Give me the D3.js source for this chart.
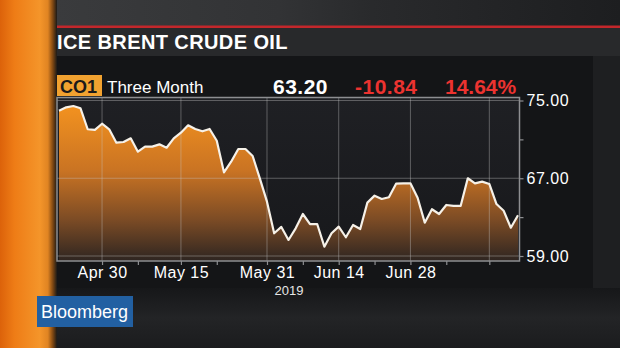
<!DOCTYPE html>
<html>
<head>
<meta charset="utf-8">
<script src="https://cdn.jsdelivr.net/npm/d3@7"></script>
<style>
  html, body { margin: 0; padding: 0; background: #141517; overflow: hidden; }
  svg { display: block; font-family: 'Liberation Sans', Arial, sans-serif; }
</style>
</head>
<body>
<script>
// trading days shown on the chart (ICE Brent, 3 months)
var dates = [
  '2019-04-22', '2019-04-23', '2019-04-24', '2019-04-25', '2019-04-26', '2019-04-29', '2019-04-30',
  '2019-05-01', '2019-05-02', '2019-05-03', '2019-05-06', '2019-05-07', '2019-05-08', '2019-05-09',
  '2019-05-10', '2019-05-13', '2019-05-14', '2019-05-15', '2019-05-16', '2019-05-17', '2019-05-20',
  '2019-05-21', '2019-05-22', '2019-05-23', '2019-05-24', '2019-05-27', '2019-05-28', '2019-05-29',
  '2019-05-30', '2019-05-31', '2019-06-03', '2019-06-04', '2019-06-05', '2019-06-06', '2019-06-07',
  '2019-06-10', '2019-06-11', '2019-06-12', '2019-06-13', '2019-06-14', '2019-06-17', '2019-06-18',
  '2019-06-19', '2019-06-20', '2019-06-21', '2019-06-24', '2019-06-25', '2019-06-26', '2019-06-27',
  '2019-06-28', '2019-07-01', '2019-07-02', '2019-07-03', '2019-07-04', '2019-07-05', '2019-07-08',
  '2019-07-09', '2019-07-10', '2019-07-11', '2019-07-12', '2019-07-15', '2019-07-16', '2019-07-17',
  '2019-07-18', '2019-07-19'
]

var prices = [
  73.95, 74.30, 74.43, 74.20, 72.04, 71.97, 72.61,
  72.04, 70.66, 70.73, 71.11, 69.73, 70.25, 70.25,
  70.49, 70.14, 71.11, 71.69, 72.45, 72.07, 71.83,
  72.07, 70.86, 67.61, 68.70, 70.01, 70.01, 69.29,
  66.99, 64.59, 61.34, 61.99, 60.65, 61.85, 63.32,
  62.29, 62.29, 59.96, 61.34, 62.02, 60.93, 62.19,
  61.78, 64.49, 65.21, 64.87, 65.04, 66.44, 66.48,
  66.48, 65.00, 62.43, 63.81, 63.32, 64.25, 64.15,
  64.15, 67.00, 66.48, 66.65, 66.41, 64.35, 63.66,
  61.91, 63.20
]

// x grid + labels (semi-monthly), minor weekly ticks
var gridDates = ['2019-04-30', '2019-05-15', '2019-05-31', '2019-06-14', '2019-06-28', '2019-07-15']
var gridLabels = ['Apr 30', 'May 15', 'May 31', 'Jun 14', 'Jun 28', '']
var minorDates = ['2019-05-07', '2019-05-22', '2019-06-07', '2019-06-21', '2019-07-05']
var yTicks = [59, 63, 67, 71, 75]
var yLabelled = [59, 67, 75]

var header = { ticker: 'CO1', period: 'Three Month', last: '63.20', change: '-10.84', pct: '14.64%' }

var W = 620
var H = 348
var plot = { left: 57, right: 519.5, top: 97.5, bottom: 261 }

var svg = d3.select('body').append('svg')
  .attr('width', W)
  .attr('height', H)

var defs = svg.append('defs')

function gradient (id, x2, y2, stops, user) {
  var g = defs.append('linearGradient')
    .attr('id', id)
    .attr('x1', 0).attr('y1', 0)
    .attr('x2', x2).attr('y2', y2)
  if (user) {
    g.attr('gradientUnits', 'userSpaceOnUse')
      .attr('x1', user[0]).attr('y1', user[1])
      .attr('x2', user[2]).attr('y2', user[3])
  }
  stops.forEach(function (s) {
    g.append('stop').attr('offset', s[0]).attr('stop-color', s[1])
  })
}

gradient('strip', 1, 0, [[0, '#dc620a'], [0.25, '#ee7c16'], [0.7, '#f4952a'], [0.84, '#e08422'], [0.93, '#7a4512'], [1, '#1c1a18']])
gradient('topband', 1, 0, [[0, '#3c3d3f'], [0.45, '#323335'], [0.6, '#292a2c'], [1, '#1d1e20']])
gradient('bottom', 0, 1, [[0, '#161719'], [0.5, '#232426'], [1, '#1b1c1e']])
gradient('plotbg', 0, 1, [[0, '#1f2024'], [1, '#17181b']])
gradient('fill', 0, 1, [[0, '#f8961f'], [0.45, '#c97323'], [0.75, '#7b4b25'], [1, '#2e2521']], [0, plot.top, 0, plot.bottom])

// background pieces
svg.append('rect').attr('x', 0).attr('y', 0).attr('width', W).attr('height', 27).attr('fill', 'url(#topband)')
svg.append('rect').attr('x', 0).attr('y', 28).attr('width', W).attr('height', 28).attr('fill', '#28292b')
svg.append('rect').attr('x', 0).attr('y', 56).attr('width', 593).attr('height', 232).attr('fill', '#141517')
svg.append('rect').attr('x', 593).attr('y', 56).attr('width', 27).attr('height', 232).attr('fill', '#1e1f21')
svg.append('rect').attr('x', 0).attr('y', 288).attr('width', W).attr('height', 60).attr('fill', 'url(#bottom)')
svg.append('rect').attr('x', 50).attr('y', 25.5).attr('width', W - 50).attr('height', 2.5).attr('fill', '#c3272b')
svg.append('rect').attr('x', 0).attr('y', 0).attr('width', 57).attr('height', H).attr('fill', 'url(#strip)')

// title
svg.append('text')
  .attr('x', 57)
  .attr('y', 49)
  .attr('fill', '#ffffff')
  .attr('font-size', '20px')
  .attr('font-weight', 'bold')
  .attr('letter-spacing', '0.4px')
  .text('ICE BRENT CRUDE OIL')

// header row
svg.append('rect').attr('x', 57).attr('y', 75).attr('width', 45).attr('height', 21).attr('fill', '#f2a230')
svg.append('text').attr('x', 60).attr('y', 93).attr('fill', '#1a1a1a')
  .attr('font-size', '18px').attr('font-weight', 'bold').text(header.ticker)
svg.append('text').attr('x', 107).attr('y', 93).attr('fill', '#ffffff')
  .attr('font-size', '17px').text(header.period)
svg.append('text').attr('x', 273).attr('y', 94).attr('fill', '#ffffff')
  .attr('font-size', '21px').attr('font-weight', 'bold').attr('letter-spacing', '0.5px').text(header.last)
svg.append('text').attr('x', 355).attr('y', 94).attr('fill', '#ec3330')
  .attr('font-size', '21px').attr('font-weight', 'bold').attr('letter-spacing', '0.5px').text(header.change)
svg.append('text').attr('x', 445).attr('y', 94).attr('fill', '#ec3330')
  .attr('font-size', '21px').attr('font-weight', 'bold').text(header.pct)

// scales
var x = d3.scalePoint().domain(dates).range([59, 518])
var y = d3.scaleLinear().domain([59, 75]).range([256, 100.5])

var data = dates.map(function (d, i) { return { date: d, value: prices[i] } })

svg.append('rect')
  .attr('x', plot.left).attr('y', plot.top)
  .attr('width', plot.right - plot.left).attr('height', plot.bottom - plot.top)
  .attr('fill', 'url(#plotbg)')

var area = d3.area()
  .x(function (d) { return x(d.date) })
  .y0(plot.bottom)
  .y1(function (d) { return y(d.value) })

var line = d3.line()
  .x(function (d) { return x(d.date) })
  .y(function (d) { return y(d.value) })

svg.append('path').datum(data).attr('d', area).attr('fill', 'url(#fill)')

// grid
svg.selectAll('line.vgrid')
  .data(gridDates)
  .enter().append('line')
  .attr('class', 'vgrid')
  .attr('x1', function (d) { return x(d) })
  .attr('x2', function (d) { return x(d) })
  .attr('y1', plot.top)
  .attr('y2', plot.bottom)
  .attr('stroke', 'rgba(200,200,200,0.38)')
  .attr('stroke-width', 1)

svg.selectAll('line.hgrid')
  .data(yLabelled)
  .enter().append('line')
  .attr('class', 'hgrid')
  .attr('x1', plot.left)
  .attr('x2', plot.right)
  .attr('y1', function (d) { return y(d) })
  .attr('y2', function (d) { return y(d) })
  .attr('stroke', 'rgba(200,200,200,0.38)')
  .attr('stroke-width', 1)

svg.append('path').datum(data)
  .attr('d', line)
  .attr('fill', 'none')
  .attr('stroke', '#f6f1e8')
  .attr('stroke-width', 2.2)
  .attr('stroke-linejoin', 'round')

// frame
svg.append('rect')
  .attr('x', plot.left).attr('y', plot.top)
  .attr('width', plot.right - plot.left).attr('height', plot.bottom - plot.top)
  .attr('fill', 'none')
  .attr('stroke', '#8d8e91')
  .attr('stroke-width', 1.5)

// axes
var yAxis = d3.axisRight(y)
  .tickValues(yTicks)
  .tickSize(4)
  .tickPadding(3)
  .tickFormat(function (d) { return yLabelled.indexOf(d) >= 0 ? d.toFixed(2) : '' })

var gy = svg.append('g').attr('transform', 'translate(' + plot.right + ',0)').call(yAxis)
gy.select('.domain').remove()

var xAxis = d3.axisBottom(x)
  .tickValues(gridDates.concat(minorDates))
  .tickSize(4)
  .tickPadding(1.5)
  .tickFormat(function (d) { var i = gridDates.indexOf(d); return i >= 0 ? gridLabels[i] : '' })

var gx = svg.append('g').attr('transform', 'translate(0,' + plot.bottom + ')').call(xAxis)
gx.select('.domain').remove()

svg.selectAll('.tick line').attr('stroke', '#8d8e91').attr('stroke-width', 1.2)
svg.selectAll('.tick text')
  .attr('fill', '#ffffff')
  .attr('font-size', '16px')
  .attr('letter-spacing', '0.5px')
  .attr('font-family', "'Liberation Sans', Arial, sans-serif")

svg.append('text')
  .attr('x', 289)
  .attr('y', 295)
  .attr('text-anchor', 'middle')
  .attr('fill', '#e6e6e6')
  .attr('font-size', '13px')
  .text('2019')

// logo
svg.append('rect').attr('x', 37).attr('y', 296).attr('width', 96).attr('height', 31).attr('fill', '#2260a2')
svg.append('text')
  .attr('x', 41)
  .attr('y', 318)
  .attr('fill', '#ffffff')
  .attr('font-size', '18px')
  .text('Bloomberg')
</script>
</body>
</html>
